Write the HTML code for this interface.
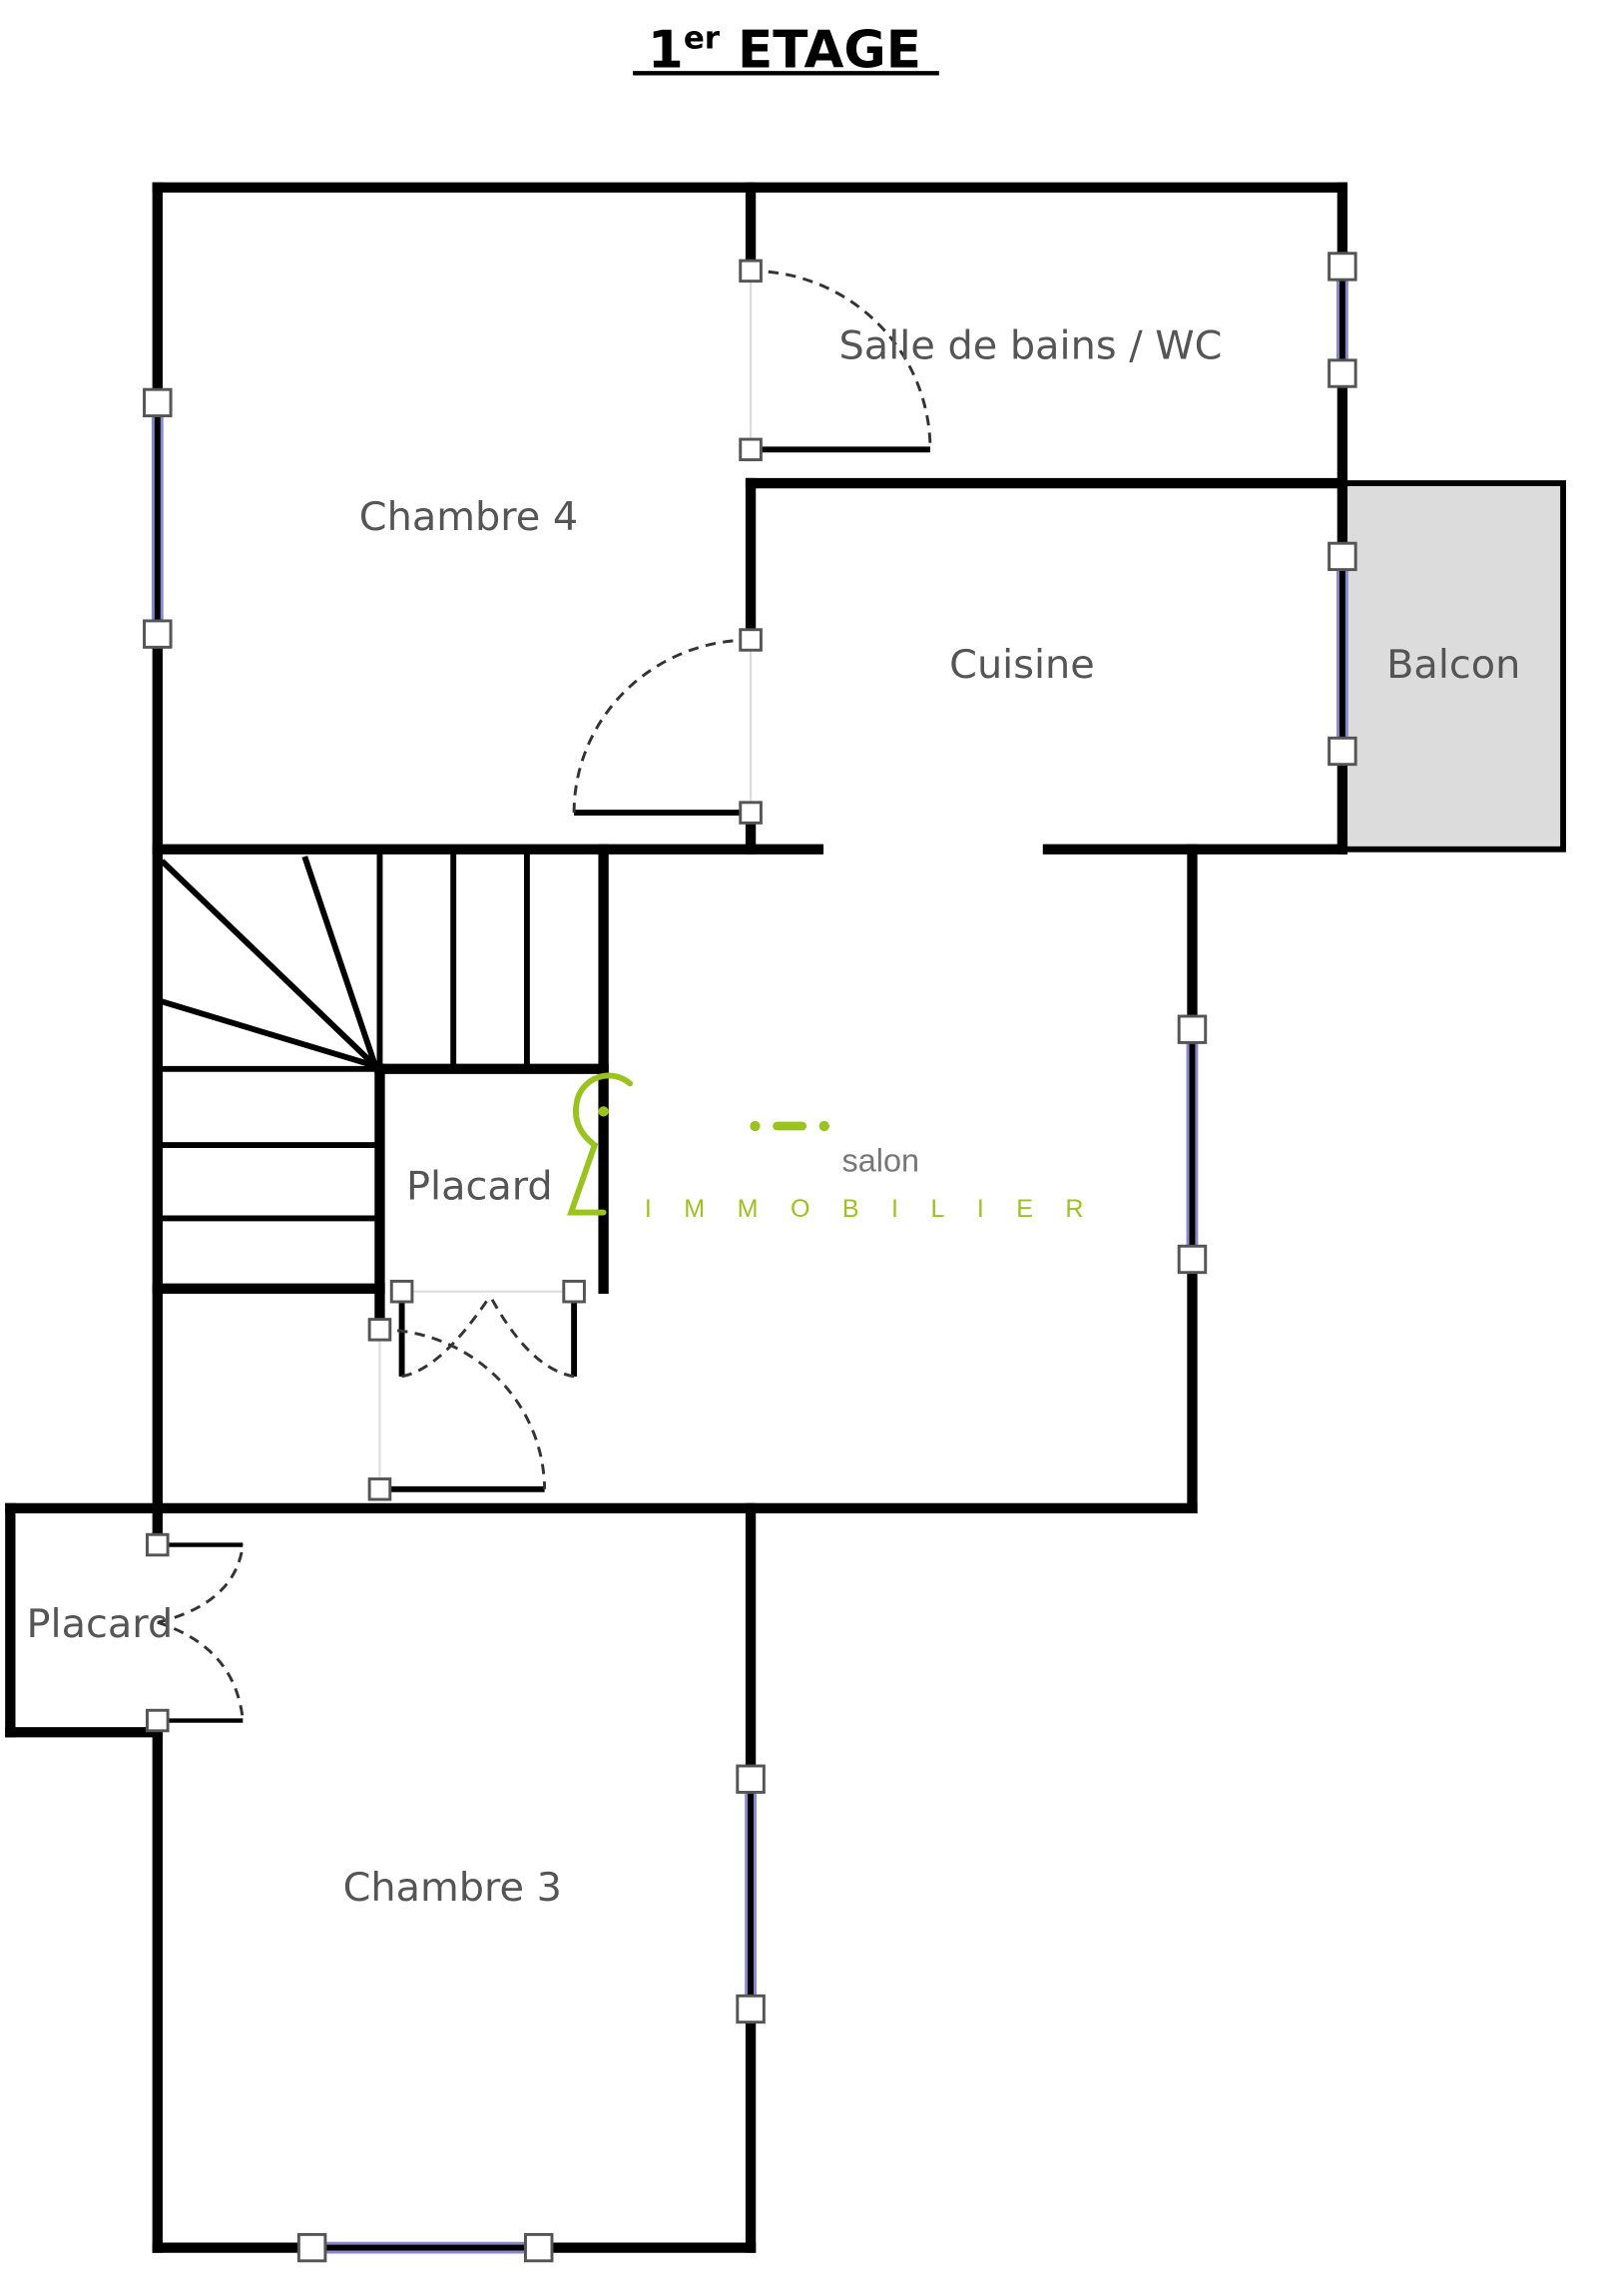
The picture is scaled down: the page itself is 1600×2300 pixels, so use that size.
<!DOCTYPE html>
<html><head><meta charset="utf-8"><style>
html,body{margin:0;padding:0;background:#fff;}
svg{display:block;}
</style></head><body>
<svg width="1600" height="2300" viewBox="0 0 1085 1568" preserveAspectRatio="none" xmlns="http://www.w3.org/2000/svg">
<rect width="1085" height="1568" fill="#fff"/>
<!-- title -->
<text x="533" y="46" text-anchor="middle" font-family="DejaVu Sans, Liberation Sans, sans-serif" font-weight="bold" font-size="35" fill="#000">1<tspan font-size="21" dy="-13">er</tspan><tspan dy="13"> ETAGE</tspan></text>
<line x1="430" y1="50" x2="638" y2="50" stroke="#000" stroke-width="3"/>
<!-- balcon -->
<rect x="912" y="330" width="150" height="250" fill="#dcdcdc" stroke="#000" stroke-width="4"/>
<g stroke="#000" stroke-width="7" fill="none" stroke-linecap="square">
<line x1="107" y1="128" x2="912" y2="128"/>
<line x1="107" y1="128" x2="107" y2="1055"/>
<line x1="107" y1="1175" x2="107" y2="1535"/>
<line x1="107" y1="1535" x2="510" y2="1535"/>
<line x1="510" y1="1030" x2="510" y2="1535"/>
<line x1="7" y1="1030" x2="810" y2="1030"/>
<line x1="7" y1="1030" x2="7" y2="1183"/>
<line x1="7" y1="1183" x2="107" y2="1183"/>
<line x1="810" y1="580" x2="810" y2="1030"/>
<line x1="107" y1="580" x2="556" y2="580"/>
<line x1="712" y1="580" x2="912" y2="580"/>
<line x1="912" y1="128" x2="912" y2="580"/>
<line x1="510" y1="330" x2="912" y2="330"/>
<line x1="510" y1="128" x2="510" y2="183"/>
<line x1="510" y1="330" x2="510" y2="437"/>
<line x1="510" y1="555" x2="510" y2="580"/>
<line x1="410" y1="580" x2="410" y2="880"/>
<line x1="258" y1="730" x2="410" y2="730"/>
<line x1="258" y1="730" x2="258" y2="908"/>
<line x1="107" y1="880" x2="258" y2="880"/>
</g>
<g stroke="#000" stroke-width="4" fill="none">
<line x1="258" y1="580" x2="258" y2="730"/>
<line x1="308" y1="580" x2="308" y2="730"/>
<line x1="358" y1="580" x2="358" y2="730"/>
<line x1="107" y1="730" x2="258" y2="730"/>
<line x1="107" y1="782" x2="258" y2="782"/>
<line x1="107" y1="832" x2="258" y2="832"/>
<line x1="110" y1="588" x2="255" y2="728"/>
<line x1="207" y1="585" x2="255" y2="728"/>
<line x1="110" y1="684" x2="255" y2="728"/>
<line x1="510" y1="307" x2="632" y2="307"/>
<line x1="390" y1="555" x2="510" y2="555"/>
<line x1="258" y1="1017" x2="370" y2="1017"/>
<line x1="273" y1="882" x2="273" y2="940"/>
<line x1="390" y1="882" x2="390" y2="940"/>
<line x1="107" y1="1055" x2="165" y2="1055" stroke-width="3"/>
<line x1="107" y1="1175" x2="165" y2="1175" stroke-width="3"/>
</g>
<g stroke="#333" stroke-width="2" fill="none" stroke-dasharray="7,5">
<path d="M510 185 A122 122 0 0 1 632 307"/>
<path d="M510 437 A120 118 0 0 0 390 555"/>
<path d="M258 908 A112 110 0 0 1 370 1017"/>
<path d="M273 940 Q300 935 333 885"/>
<path d="M390 940 Q360 935 333 885"/>
<path d="M107 1108 Q160 1095 165 1055"/>
<path d="M107 1108 Q160 1125 165 1175"/>
</g>
<g stroke="#ddd" stroke-width="1.5"><line x1="510" y1="185" x2="510" y2="307"/><line x1="510" y1="437" x2="510" y2="555"/><line x1="258" y1="908" x2="258" y2="1017"/><line x1="273" y1="882" x2="390" y2="882"/></g>
<g stroke="#8888cc" stroke-width="2" fill="none">
<line x1="104" y1="275" x2="104" y2="433"/><line x1="110" y1="275" x2="110" y2="433"/>
<line x1="909" y1="182" x2="909" y2="255"/><line x1="915" y1="182" x2="915" y2="255"/>
<line x1="909" y1="380" x2="909" y2="513"/><line x1="915" y1="380" x2="915" y2="513"/>
<line x1="807" y1="703" x2="807" y2="860"/><line x1="813" y1="703" x2="813" y2="860"/>
<line x1="507" y1="1215" x2="507" y2="1372"/><line x1="513" y1="1215" x2="513" y2="1372"/>
<line x1="212" y1="1532" x2="366" y2="1532"/><line x1="212" y1="1538" x2="366" y2="1538"/>
</g>
<g fill="#fff" stroke="#555" stroke-width="2">
<rect x="98" y="266" width="18" height="18"/><rect x="98" y="424" width="18" height="18"/>
<rect x="903" y="173" width="18" height="18"/><rect x="903" y="246" width="18" height="18"/>
<rect x="903" y="371" width="18" height="18"/><rect x="903" y="504" width="18" height="18"/>
<rect x="801" y="694" width="18" height="18"/><rect x="801" y="851" width="18" height="18"/>
<rect x="501" y="1206" width="18" height="18"/><rect x="501" y="1363" width="18" height="18"/>
<rect x="203" y="1526" width="18" height="18"/><rect x="357" y="1526" width="18" height="18"/>
<rect x="503" y="178" width="14" height="14"/><rect x="503" y="300" width="14" height="14"/>
<rect x="503" y="430" width="14" height="14"/><rect x="503" y="548" width="14" height="14"/>
<rect x="266" y="875" width="14" height="14"/><rect x="383" y="875" width="14" height="14"/>
<rect x="251" y="901" width="14" height="14"/><rect x="251" y="1010" width="14" height="14"/>
<rect x="100" y="1048" width="14" height="14"/><rect x="100" y="1168" width="14" height="14"/>
</g>
<g font-family="DejaVu Sans, Liberation Sans, sans-serif" font-size="27" fill="#555">
<text x="570" y="245">Salle de bains / WC</text>
<text x="244" y="362">Chambre 4</text>
<text x="645" y="463">Cuisine</text>
<text x="942" y="463">Balcon</text>
<text x="276" y="819">Placard</text>
<text x="18" y="1118">Placard</text>
<text x="233" y="1298">Chambre 3</text>
</g>
<g stroke="#9bc31f" stroke-width="4" fill="none" stroke-linecap="round">
<path d="M428 740 A22 22 0 0 0 392 752 Q388 770 404 782 L388 828 L410 828"/>
<line x1="528" y1="769" x2="545" y2="769" stroke-width="6"/>
</g>
<g fill="#9bc31f"><circle cx="410" cy="759" r="3.5"/><circle cx="513" cy="769" r="3.5"/><circle cx="560" cy="769" r="3.5"/></g>
<text x="572" y="800" font-family="Liberation Sans, sans-serif" font-size="22" fill="#777">salon</text>
<text x="438" y="831" font-family="Liberation Sans, sans-serif" font-size="17" fill="#9bc31f" letter-spacing="22">IMMOBILIER</text>
</svg>
</body></html>
